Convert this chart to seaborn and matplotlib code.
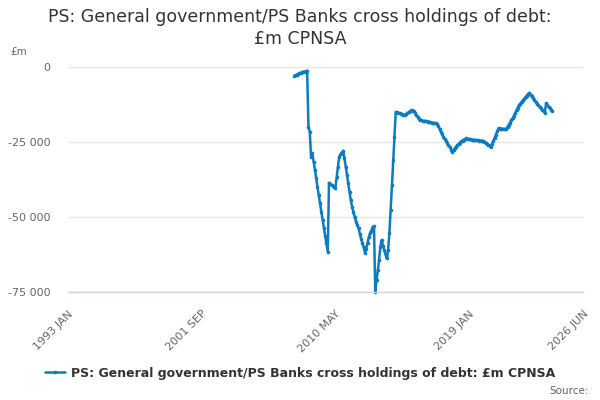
import pandas as pd
import matplotlib
matplotlib.use("Agg")
import matplotlib.pyplot as plt
import matplotlib.dates as mdates
from matplotlib.ticker import FuncFormatter
import seaborn as sns

# monthly series, £m, first month 2007 SEP
start_month = "2007-09"
values = [
    -2900, -2700, -2500, -2300, -2100, -1900, -1800, -1600, -1500, -1400,
    -1300, -20000, -21500, -29900, -28800, -31600, -34300, -37100, -39900, -42700,
    -45400, -48200, -51000, -53800, -56300, -58800, -61600, -38600, -39000, -39300,
    -39700, -40000, -40200, -36600, -33200, -29900, -29000, -28500, -27900, -30400,
    -33200, -36000, -38800, -41600, -44300, -46600, -48200, -50000, -51500, -52500,
    -53800, -55500, -57200, -58600, -60000, -61900, -60500, -58500, -56800, -55400,
    -54500, -53300, -53000, -74900, -71000, -67700, -64300, -59900, -57700, -59500,
    -61000, -62500, -63800, -61000, -55400, -47700, -39300, -31000, -23200, -15000,
    -15100, -15200, -15400, -15600, -15800, -15900, -16000, -15700, -15400, -15100,
    -14800, -14500, -14300, -14800, -15400, -16000, -16600, -17200, -17700, -17800,
    -17900, -18000, -18000, -18100, -18200, -18300, -18400, -18500, -18600, -18700,
    -18800, -19000, -19800, -20600, -21500, -22300, -23200, -23900, -24600, -25300,
    -26000, -26700, -27500, -28200, -27600, -27000, -26500, -26000, -25600, -25200,
    -24800, -24500, -24200, -24000, -23800, -23900, -24000, -24100, -24200, -24300,
    -24300, -24400, -24400, -24400, -24500, -24500, -24600, -24600, -24900, -25200,
    -25600, -26000, -26300, -26600, -25600, -24600, -23500, -22500, -21400, -20400,
    -20500, -20500, -20600, -20600, -20700, -20700, -20000, -19200, -18500, -17700,
    -17100, -16200, -15300, -14400, -13500, -12700, -12200, -11600, -11100, -10600,
    -10000, -9500, -9000, -8600, -9200, -9800, -10400, -11000, -11600, -12300,
    -12800, -13300, -13800, -14300, -14800, -15200, -12100, -12700, -13200, -13700,
    -14200, -14600,
]
series_name = "PS: General government/PS Banks cross holdings of debt: £m CPNSA"

major_ticks = ["1993-01", "2001-09", "2010-05", "2019-01", "2026-06"]
major_labels = ["1993 JAN", "2001 SEP", "2010 MAY", "2019 JAN", "2026 JUN"]
minor_ticks = ["1995-03", "1997-05", "1999-07", "2003-11", "2006-01", "2008-03",
               "2012-07", "2014-09", "2016-11", "2021-03", "2023-05"]
y_ticks = [0, -25000, -50000, -75000]

df = pd.DataFrame({
    "date": pd.date_range(start_month, periods=len(values), freq="MS"),
    "value": values,
})

sns.set_style("white")
plt.rcParams["font.family"] = ["DejaVu Sans"]

fig = plt.figure(figsize=(6, 4), dpi=100)
ax = fig.add_axes([68.3 / 600, 1 - 292 / 400, 515 / 600, 225 / 400])

line_color = "#0c7bc0"
sns.lineplot(data=df, x="date", y="value", ax=ax, color=line_color, linewidth=1.8,
             marker="o", markersize=2.6, markeredgewidth=0, label=series_name,
             legend=False)

ax.set_xlim(mdates.date2num(pd.Timestamp("1993-01-01")),
            mdates.date2num(pd.Timestamp("2026-06-01")))
ax.set_ylim(-75000, 0)

ax.set_xticks([mdates.date2num(pd.Timestamp(d)) for d in major_ticks])
ax.set_xticklabels(major_labels, rotation=45, ha="right", rotation_mode="anchor",
                   fontsize=8, color="#666666")
ax.set_xticks([mdates.date2num(pd.Timestamp(d)) for d in minor_ticks], minor=True)
ax.tick_params(axis="x", which="both", direction="out", length=9, width=1,
               color="#ccd6eb", pad=4)
ax.tick_params(axis="x", which="major", pad=3)

ax.set_yticks(y_ticks)
ax.yaxis.set_major_formatter(FuncFormatter(lambda v, p: f"{int(v):,}".replace(",", " ")))
ax.tick_params(axis="y", length=0, labelsize=8, labelcolor="#666666", pad=13)

ax.grid(axis="y", color="#e6e6e6", linewidth=1)
ax.set_axisbelow(True)
for s in ["left", "top", "right"]:
    ax.spines[s].set_visible(False)
ax.spines["bottom"].set_color("#ccd6eb")
ax.spines["bottom"].set_linewidth(1)
ax.set_xlabel("")
ax.set_ylabel("")
for l in ax.lines:
    l.set_clip_on(False)

fig.text(0.5, 1 - 8 / 400,
         "PS: General government/PS Banks cross holdings of debt:\n£m CPNSA",
         ha="center", va="top", fontsize=12.5, color="#333333", linespacing=1.3)
fig.text(10 / 600, 1 - 52 / 400, "£m", ha="left", va="center", fontsize=7.5,
         color="#666666")

handles, labels = ax.get_legend_handles_labels()
fig.legend(handles, labels, loc="center", bbox_to_anchor=(0.5, 1 - 373 / 400),
           frameon=False, handlelength=1.6, handletextpad=0.5,
           prop={"weight": "bold", "size": 9}, labelcolor="#333333")
fig.text(589 / 600, 1 - 391 / 400, "Source:", ha="right", va="center",
         fontsize=7.5, color="#666666")

fig.savefig("out.png", dpi=100)
